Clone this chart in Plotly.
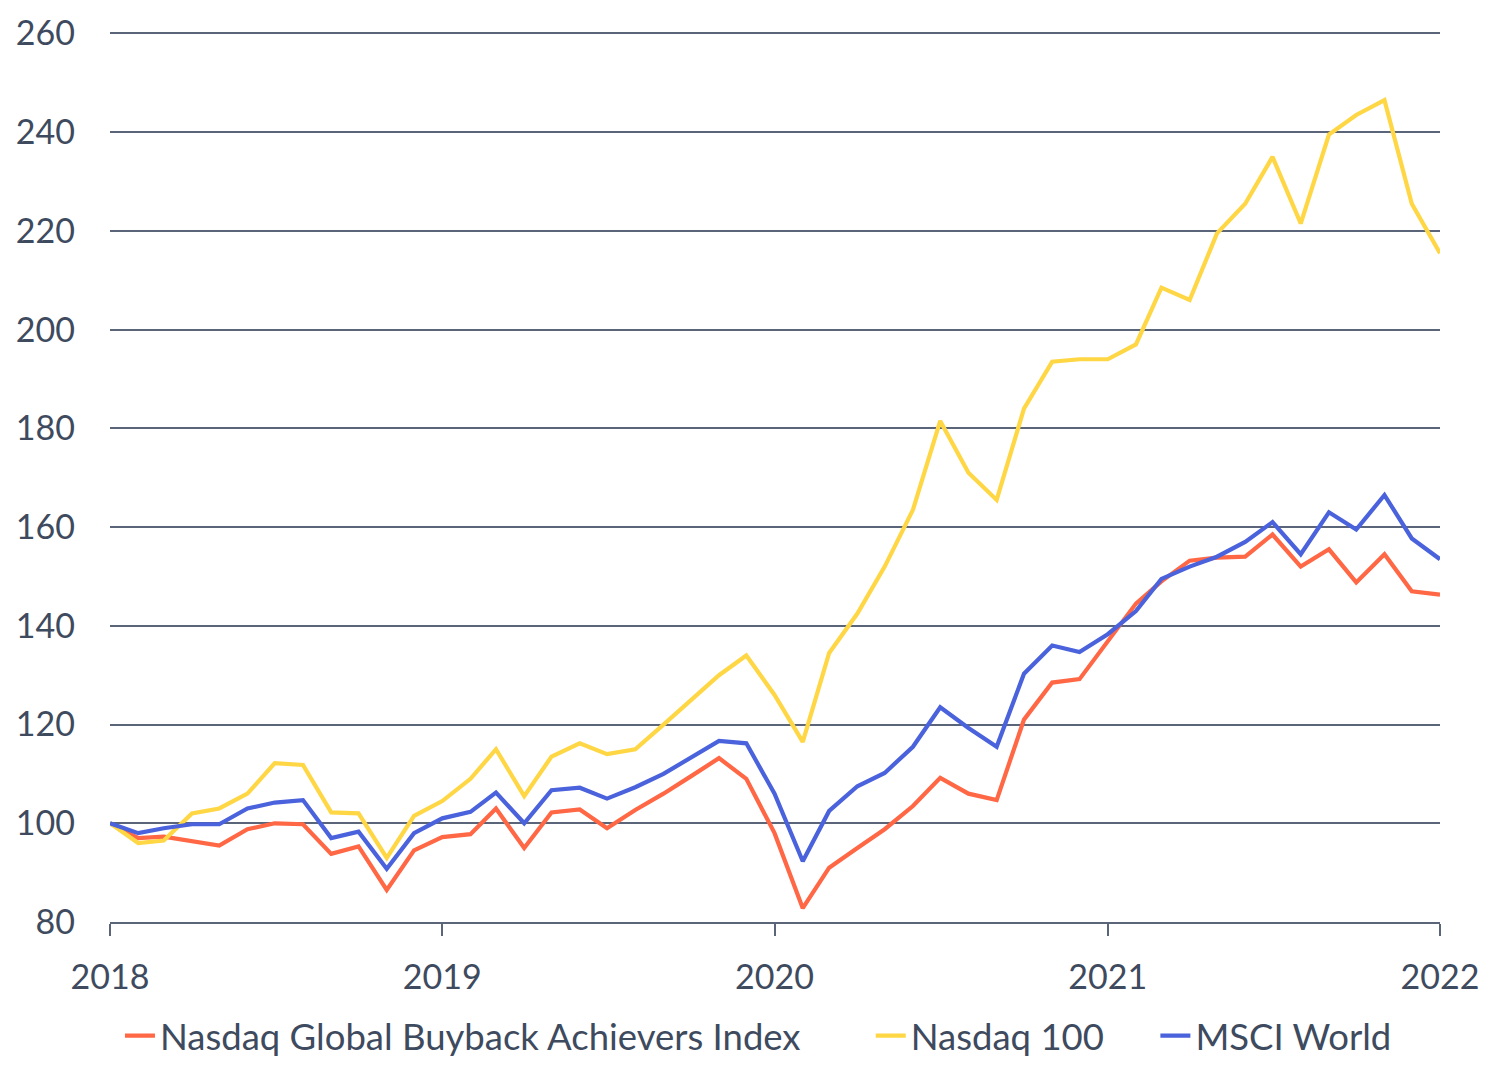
import pandas as pd
import plotly.graph_objects as go

dates = pd.date_range("2018-01-01", "2022-01-01", freq="MS")

buyback = [100, 97, 97.3, 96.3, 95.5, 98.8, 100, 99.8, 93.8, 95.3, 86.5, 94.5,
           97.2, 97.8, 103, 95, 102.2, 102.8, 99, 102.7, 106, 109.5, 113.2, 109,
           98, 82.8, 91, 95, 98.8, 103.5, 109.2, 106, 104.7, 121, 128.5, 129.2,
           137, 144.5, 149, 153.2, 153.8, 154, 158.5, 152, 155.5, 148.8, 154.5, 147, 146.3]

nasdaq100 = [100, 96, 96.5, 102, 103, 106, 112.2, 111.8, 102.2, 102, 93, 101.5,
             104.5, 109, 115, 105.5, 113.5, 116.2, 114, 115, 120, 125, 130, 134,
             126, 116.5, 134.5, 142.5, 152, 163.5, 181.5, 171, 165.5, 184, 193.5, 194,
             194, 197, 208.5, 206, 219.5, 225.5, 235, 221.5, 239.5, 243.5, 246.5, 225.5, 215.5]

msci = [100, 98, 99, 99.8, 99.8, 103, 104.2, 104.7, 97, 98.3, 90.8, 98,
        101, 102.3, 106.2, 100, 106.7, 107.2, 105, 107.3, 110, 113.3, 116.7, 116.2,
        106, 92.3, 102.5, 107.5, 110.2, 115.5, 123.5, 119.3, 115.5, 130.3, 136, 134.7,
        138.3, 143, 149.5, 152, 154, 157, 161, 154.5, 163, 159.5, 166.5, 157.7, 153.5]

series_names = ["Nasdaq Global Buyback Achievers Index", "Nasdaq 100", "MSCI World"]
series_colors = ["#FF6745", "#FFD644", "#4A62DC"]
legend_ids = ["legend", "legend2", "legend3"]
legend_x = [0.0075, 0.572, 0.786]
y_ticks = [80, 100, 120, 140, 160, 180, 200, 220, 240, 260]
x_tick_labels = ["2018", "2019", "2020", "2021", "2022"]

text_color = "#3E4A5E"
grid_color = "#5B6579"
FONT = "Lato"
FS = 34
LFS = 36.5

fig = go.Figure()
for name, vals, col, lg in zip(series_names, [buyback, nasdaq100, msci], series_colors, legend_ids):
    fig.add_trace(go.Scatter(x=dates, y=vals, mode="lines", name=name, legend=lg,
                             line=dict(color=col, width=4.2)))

x_tick_vals = [pd.Timestamp(f"{y}-01-01") for y in x_tick_labels]

legend_common = dict(orientation="h", y=-0.128, yanchor="middle", xanchor="left",
                     font=dict(size=LFS, color=text_color, family=FONT),
                     bgcolor="rgba(0,0,0,0)")

fig.update_layout(
    width=1502, height=1080,
    paper_bgcolor="white", plot_bgcolor="white",
    margin=dict(l=102, r=70, t=24, b=166, autoexpand=False),
    font=dict(family=FONT, color=text_color, size=FS),
    showlegend=True,
    legend=dict(x=legend_x[0], **legend_common),
    legend2=dict(x=legend_x[1], **legend_common),
    legend3=dict(x=legend_x[2], **legend_common),
    xaxis=dict(range=[dates[0], dates[-1]], tickvals=x_tick_vals, ticktext=x_tick_labels,
               showgrid=False, zeroline=False, showline=True, linecolor=grid_color,
               linewidth=1.5, ticks="outside", ticklen=12, tickwidth=1.5,
               tickcolor=grid_color, ticklabelstandoff=12, automargin=False,
               tickfont=dict(size=FS, color=text_color)),
    xaxis2=dict(range=[dates[0], dates[-1]], tickvals=x_tick_vals, overlaying="x",
                anchor="y", side="bottom", showticklabels=False, showgrid=False,
                zeroline=False, showline=False, ticks="inside", ticklen=12,
                tickwidth=1.5, tickcolor=grid_color, matches="x", automargin=False),
    yaxis=dict(range=[80, 260.3], tickvals=y_ticks, showgrid=True, gridcolor=grid_color,
               gridwidth=1.5, zeroline=False, showline=False, ticks="", automargin=False,
               ticklabelstandoff=34, tickfont=dict(size=FS, color=text_color)),
)

fig.write_html("out.html")
